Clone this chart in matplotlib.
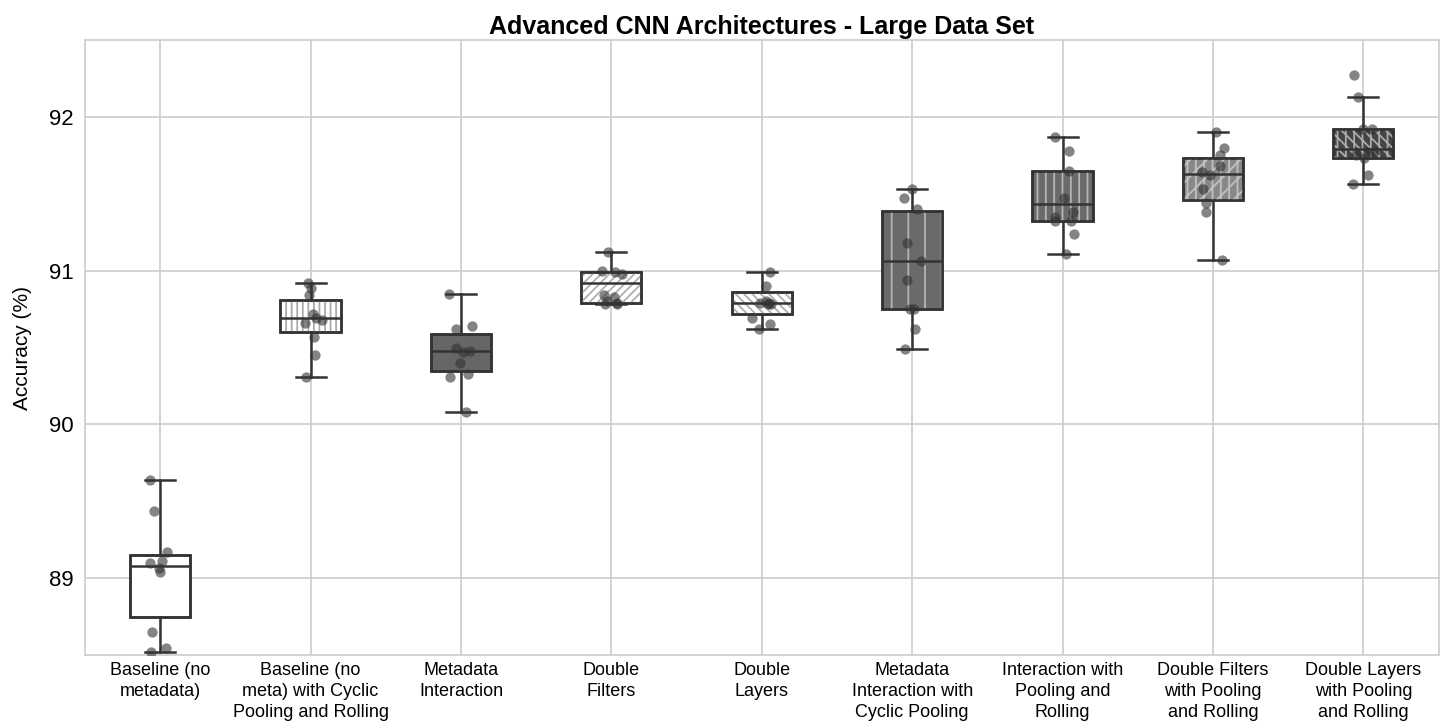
import numpy as np
import matplotlib
matplotlib.use("Agg")
import matplotlib.pyplot as plt
from matplotlib.patches import PathPatch

plt.rcParams['font.family'] = ['Liberation Sans', 'DejaVu Sans']
plt.rcParams['hatch.linewidth'] = 1.3

# Architectures (x tick labels)
labels = ["Baseline (no\nmetadata)",
          "Baseline (no\nmeta) with Cyclic\nPooling and Rolling",
          "Metadata\nInteraction",
          "Double\nFilters",
          "Double\nLayers",
          "Metadata\nInteraction with\nCyclic Pooling",
          "Interaction with\nPooling and\nRolling",
          "Double Filters\nwith Pooling\nand Rolling",
          "Double Layers\nwith Pooling\nand Rolling"]

# box statistics
whislo = [88.52, 90.31, 90.08, 90.78, 90.62, 90.49, 91.11, 91.07, 91.56]
q1     = [88.75, 90.60, 90.35, 90.79, 90.72, 90.75, 91.32, 91.46, 91.73]
med    = [89.08, 90.69, 90.48, 90.92, 90.79, 91.06, 91.43, 91.63, 91.79]
q3     = [89.15, 90.81, 90.59, 90.99, 90.86, 91.39, 91.65, 91.73, 91.92]
whishi = [89.64, 90.92, 90.85, 91.12, 90.99, 91.53, 91.87, 91.90, 92.13]

# individual runs
runs = [
    [89.64, 89.44, 89.17, 89.11, 89.10, 89.07, 89.04, 88.65, 88.55, 88.52],
    [90.92, 90.89, 90.84, 90.72, 90.69, 90.68, 90.66, 90.57, 90.45, 90.31],
    [90.85, 90.64, 90.62, 90.50, 90.48, 90.47, 90.40, 90.33, 90.31, 90.08],
    [91.12, 91.00, 90.99, 90.98, 90.84, 90.83, 90.80, 90.79, 90.78, 90.78],
    [90.99, 90.90, 90.80, 90.79, 90.79, 90.78, 90.78, 90.69, 90.65, 90.62],
    [91.53, 91.47, 91.40, 91.18, 91.06, 90.94, 90.75, 90.75, 90.62, 90.49],
    [91.87, 91.78, 91.65, 91.47, 91.38, 91.35, 91.32, 91.32, 91.24, 91.11],
    [91.90, 91.80, 91.75, 91.68, 91.64, 91.62, 91.53, 91.44, 91.38, 91.07],
    [92.27, 92.13, 91.92, 91.92, 91.78, 91.77, 91.75, 91.73, 91.62, 91.56],
]

fills   = ['white', 'white', '#666666', 'white', 'white', '#6a6a6a', '#6a6a6a', '#888888', '#444444']
hatches = ['', '|||', '', '////', '\\\\\\\\', '|', '||', '//||', '\\\\\\||']
hcolors = ['#aaaaaa', '#aaaaaa', '#aaaaaa', '#b0b0b0', '#b0b0b0', '#b5b5b5', '#b5b5b5', '#c0c0c0', '#aaaaaa']

fig = plt.figure(figsize=(14.4, 7.24), dpi=100)
ax = fig.add_axes([0.059, 0.095, 0.94, 0.85])

stats = []
for i in range(len(labels)):
    stats.append(dict(whislo=whislo[i], q1=q1[i], med=med[i], q3=q3[i], whishi=whishi[i], fliers=[]))

edge = '#333333'
bp = ax.bxp(stats, positions=range(len(labels)), widths=0.4, patch_artist=True, showfliers=False,
            boxprops=dict(edgecolor=edge, linewidth=1.8),
            medianprops=dict(color=edge, linewidth=1.8),
            whiskerprops=dict(color=edge, linewidth=1.8),
            capprops=dict(color=edge, linewidth=1.8), zorder=2)

for i, box in enumerate(bp['boxes']):
    box.set_facecolor(fills[i])
    if hatches[i]:
        hp = PathPatch(box.get_path(), transform=box.get_transform(), facecolor='none',
                       edgecolor=hcolors[i], hatch=hatches[i], linewidth=0, zorder=2.1)
        ax.add_patch(hp)
    outline = PathPatch(box.get_path(), transform=box.get_transform(), facecolor='none',
                        edgecolor=edge, linewidth=1.8, zorder=2.2)
    ax.add_patch(outline)
for m in bp['medians']:
    m.set_zorder(2.3)

# strip points with small jitter
rng = np.random.default_rng(3)
for i, vals in enumerate(runs):
    xs = i + rng.uniform(-0.08, 0.08, len(vals))
    ax.scatter(xs, vals, s=55, color='#333333', alpha=0.6, linewidths=0, zorder=3)

ax.set_xlim(-0.5, len(labels) - 0.5)
ax.set_ylim(88.5, 92.5)
ax.set_yticks([89, 90, 91, 92])
ax.set_xticks(range(len(labels)))
ax.set_xticklabels(labels, fontsize=13, linespacing=1.3)
ax.tick_params(axis='y', labelsize=16, length=0, pad=8)
ax.tick_params(axis='x', length=0, pad=5)
ax.grid(True, color='#cccccc', linewidth=1.2)
ax.set_axisbelow(True)
for s in ax.spines.values():
    s.set_color('#cccccc')
    s.set_linewidth(1.2)

ax.set_ylabel("Accuracy (%)", fontsize=15, labelpad=12)
ax.set_title("Advanced CNN Architectures - Large Data Set", fontsize=18, fontweight='bold', pad=4)

plt.savefig('out.png')
